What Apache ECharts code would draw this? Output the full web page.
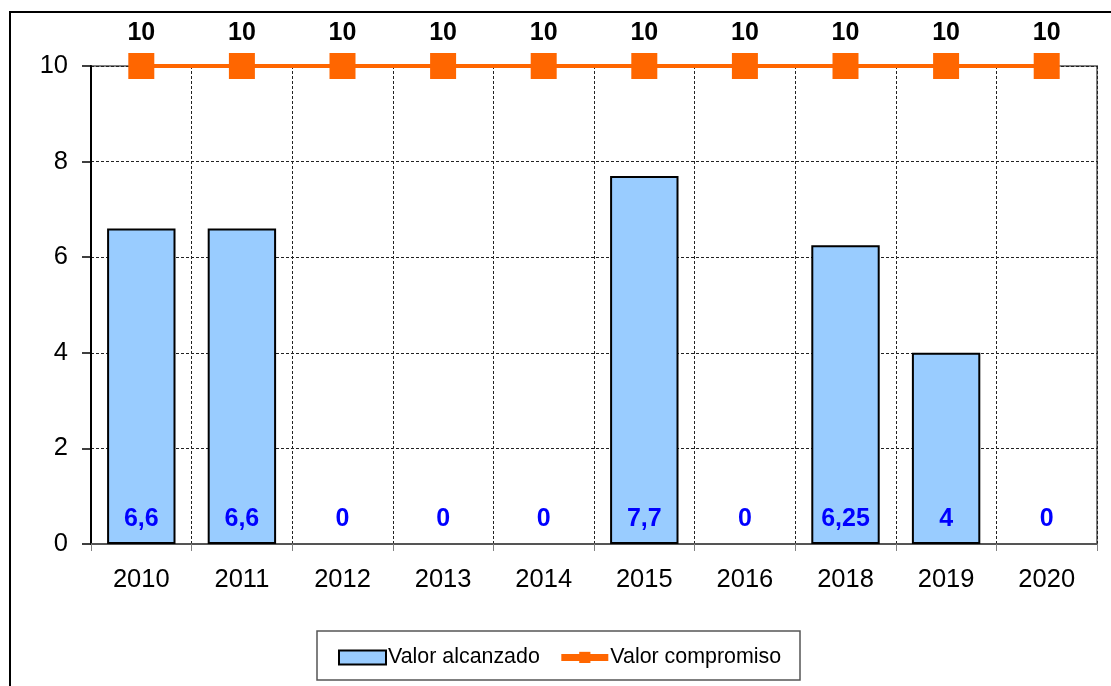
<html>
<head>
<script src="https://cdn.jsdelivr.net/npm/echarts@6/dist/echarts.min.js"></script>
<style>
  html, body { margin: 0; padding: 0; background: #fff; }
  #chart { width: 1111px; height: 686px; }
</style>
</head>
<body>
<div id="chart"></div>
<script type="text/javascript">

var years = ['2010', '2011', '2012', '2013', '2014', '2015', '2016', '2018', '2019', '2020'];
var alcanzado = [6.6, 6.6, 0, 0, 0, 7.7, 0, 6.25, 4, 0];
var compromiso = [10, 10, 10, 10, 10, 10, 10, 10, 10, 10];

var font = '"Liberation Sans", Arial, sans-serif';

function comma(p) {
    return String(p.value).replace('.', ',');
}

// zero-height bars get no outline, like the original
var barData = alcanzado.map(function (v) {
    return v === 0 ? { value: v, itemStyle: { borderWidth: 0 } } : v;
});

var option = {
    animation: false,
    textStyle: { fontFamily: font },
    graphic: [{
        type: 'rect',
        z: -10,
        shape: { x: 10, y: 12, width: 1200, height: 800 },
        style: { fill: '#fff', stroke: '#000', lineWidth: 2 }
    }, {
        // legend frame
        type: 'rect',
        z: -5,
        shape: { x: 317, y: 631, width: 483, height: 49 },
        style: { fill: '#fff', stroke: '#555', lineWidth: 1.5 }
    }],
    grid: {
        left: 91,
        right: 14,
        top: 66,
        bottom: 142,
        show: true,
        borderColor: '#808080',
        borderWidth: 2
    },
    legend: {
        left: 317,
        top: 631,
        padding: [8, 21],
        itemGap: 18,
        itemWidth: 47,
        itemHeight: 14,
        textStyle: { fontSize: 21.4, lineHeight: 24, color: '#000', fontFamily: font, padding: [0, 0, 0, -3] },
        data: [
            { name: 'Valor alcanzado', icon: 'rect', itemStyle: { borderColor: '#000', borderWidth: 2 } },
            { name: 'Valor compromiso', lineStyle: { width: 7 } }
        ]
    },
    xAxis: {
        type: 'category',
        data: years,
        axisLine: { lineStyle: { color: '#555', width: 2 } },
        axisTick: { show: true, length: 7, lineStyle: { color: '#808080' } },
        axisLabel: { fontSize: 25.5, color: '#000', margin: 14 },
        splitLine: { show: true, lineStyle: { type: [3, 2], color: '#222', width: 1 } }
    },
    yAxis: {
        type: 'value',
        min: 0,
        max: 10,
        interval: 2,
        axisLine: { show: true, lineStyle: { color: '#000', width: 2 } },
        axisTick: { show: true, length: 9, lineStyle: { color: '#000', width: 1.5 } },
        axisLabel: { fontSize: 25.5, color: '#000', margin: 23 },
        splitLine: { show: true, lineStyle: { type: [3, 2], color: '#222', width: 1 } }
    },
    series: [{
        name: 'Valor alcanzado',
        type: 'bar',
        barWidth: '68%',
        data: barData,
        itemStyle: { color: '#99CCFF', borderColor: '#000', borderWidth: 2 },
        label: {
            show: true,
            position: 'insideBottom',
            distance: 3,
            fontSize: 25,
            fontWeight: 'bold',
            color: '#0000FF',
            formatter: comma
        }
    }, {
        name: 'Valor compromiso',
        type: 'line',
        data: compromiso,
        symbol: 'rect',
        symbolSize: 26,
        lineStyle: { color: '#FF6600', width: 4 },
        itemStyle: { color: '#FF6600' },
        label: {
            show: true,
            position: 'top',
            distance: -2,
            fontSize: 25,
            fontWeight: 'bold',
            color: '#000',
            formatter: comma
        }
    }]
};

var chart = echarts.init(document.getElementById('chart'));
chart.setOption(option);

</script>
</body>
</html>
